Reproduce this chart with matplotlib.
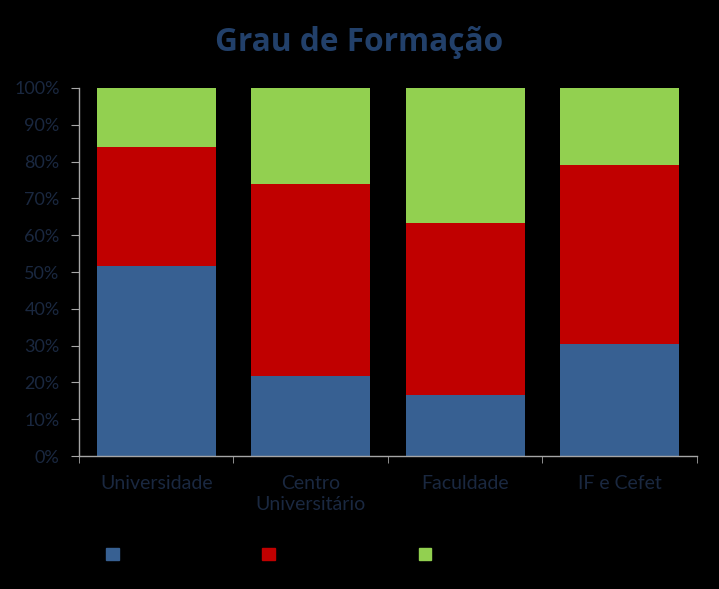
import numpy as np
import matplotlib.pyplot as plt
from matplotlib.patches import Patch

# categories and stacked shares (percent)
categories = ["Universidade", "Centro\nUniversitário", "Faculdade", "IF e Cefet"]
blue_vals = [51.6, 21.7, 16.6, 30.4]
red_vals = [32.4, 52.2, 46.8, 48.8]
green_vals = [16.0, 26.1, 36.6, 20.8]
y_ticks = [0, 10, 20, 30, 40, 50, 60, 70, 80, 90, 100]

blue = "#376092"
red = "#C00000"
green = "#92D050"
label_col = "#1A2840"
axis_col = "#A6A6A6"

plt.rcParams['font.family'] = ['Lato', 'DejaVu Sans']

fig = plt.figure(figsize=(7.19, 5.89), dpi=100, facecolor="black")
ax = fig.add_axes([0.110, 0.2258, 0.859, 0.6248], facecolor="black")

x = np.arange(len(categories))
w = 0.77
b = np.array(blue_vals)
r = np.array(red_vals)
g = np.array(green_vals)
ax.bar(x, b, w, color=blue)
ax.bar(x, r, w, bottom=b, color=red)
ax.bar(x, g, w, bottom=b + r, color=green)

ax.set_xlim(-0.5, len(categories) - 0.5)
ax.set_ylim(0, 100)
ax.set_yticks(y_ticks)
ax.set_yticklabels([f"{t}%" for t in y_ticks], color=label_col, fontsize=13)
ax.set_xticks(x)
ax.set_xticklabels(categories, color=label_col, fontsize=14, linespacing=1.25)
ax.tick_params(axis='x', length=0, pad=14)
ax.set_xticks(np.arange(len(categories) + 1) - 0.5, minor=True)
ax.tick_params(axis='x', which='minor', length=5, color=axis_col, direction='out')
ax.tick_params(axis='y', length=6, color=axis_col, direction='out', pad=8)

for s in ['top', 'right']:
    ax.spines[s].set_visible(False)
for s in ['left', 'bottom']:
    ax.spines[s].set_color(axis_col)
    ax.spines[s].set_linewidth(1)

fig.text(0.5, 0.928, "Grau de Formação", ha='center', va='center',
         fontsize=22.8, fontweight='bold', color="#22406A",
         family=['Open Sans', 'DejaVu Sans'])

handles = [Patch(color=blue), Patch(color=red), Patch(color=green)]
fig.legend(handles, [" ", " ", " "], loc='center left', bbox_to_anchor=(0.125, 0.057),
           ncol=3, frameon=False, handlelength=0.7, handleheight=0.7,
           columnspacing=6.9, fontsize=13, labelcolor="black")

fig.savefig("out.png", dpi=100, facecolor="black")
